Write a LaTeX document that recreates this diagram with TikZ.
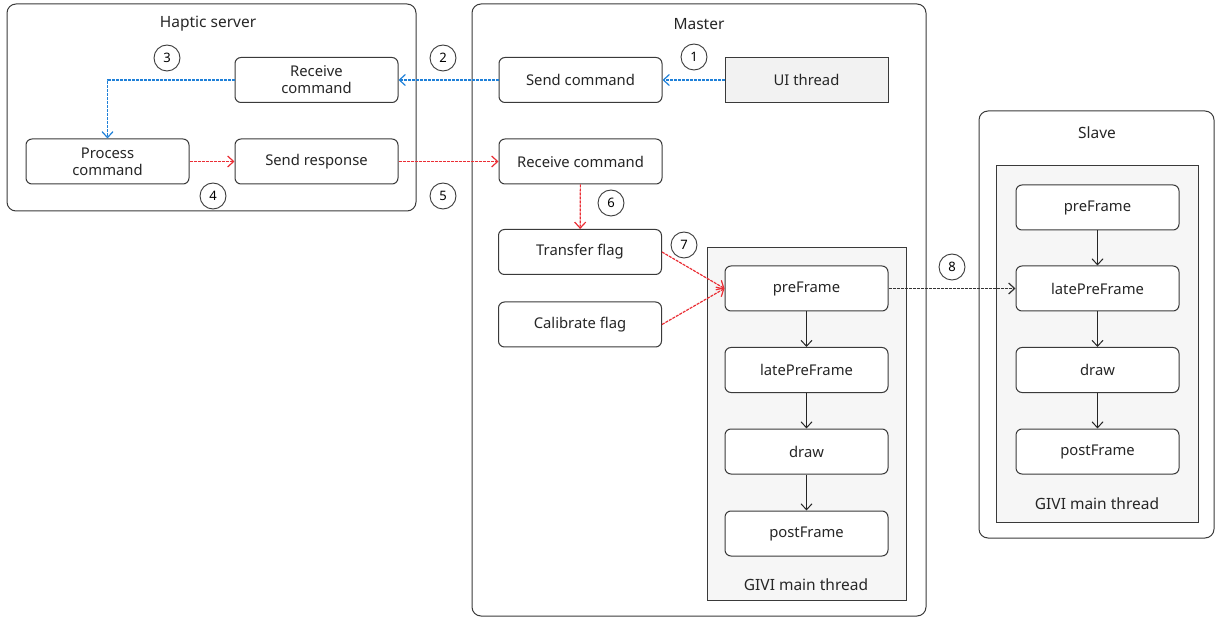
\documentclass[tikz,border=0pt]{standalone}
\usepackage{fontspec}
\setmainfont{Noto Sans}
\usetikzlibrary{arrows.meta}
\definecolor{edge}{HTML}{3A3A3A}
\definecolor{bluearrow}{HTML}{1F80D8}
\definecolor{redarrow}{HTML}{EA2E35}
\definecolor{panel}{HTML}{F6F6F6}
\definecolor{uifill}{HTML}{F2F2F2}
\tikzset{
  tip/.style={-{Straight Barb[length=6pt,width=11pt]}},
  group/.style={draw=edge, line width=1pt, rounded corners=9pt},
  thread/.style={draw=edge, line width=1pt, fill=panel},
  stepbox/.style={draw=edge, line width=1pt, rounded corners=6pt, fill=white,
    minimum width=163pt, minimum height=45pt, inner sep=0pt, align=center,
    font=\fontsize{14.8}{17}\selectfont, text=black!85},
  title/.style={font=\fontsize{15.5}{17}\selectfont, text=black!85},
  num/.style={draw=edge, line width=0.9pt, circle, minimum size=26pt, inner sep=0pt,
    font=\fontsize{13}{15}\selectfont},
  dashlink/.style={tip, line width=1.2pt, dash pattern=on 3pt off 1pt},
  bluelink/.style={dashlink, draw=bluearrow},
  redlink/.style={dashlink, draw=redarrow},
  blacklink/.style={dashlink, draw=black!80},
  flow/.style={tip, draw=black!85, line width=1pt},
}
\begin{document}
\begin{tikzpicture}[x=1pt, y=-1pt]
\useasboundingbox (0,0) rectangle (1216,620);

% host groups
\draw[group] (7,4) rectangle (416,211);
\node[title] (hsTitle) at (208,24) {Haptic server};
\draw[group] (472,4) rectangle (926,616);
\node[title] (msTitle) at (699,24) {Master};
\draw[group] (979,111) rectangle (1214,538);
\node[title] (slTitle) at (1097,133) {Slave};

% main-thread panels
\draw[thread] (707,248) rectangle (906,600);
\node[title] (mgTitle) at (806,585) {GIVI main thread};
\draw[thread] (996,166) rectangle (1198,522);
\node[title] (sgTitle) at (1097,504) {GIVI main thread};

% haptic server steps
\node[stepbox] (hRecv) at (316.5,80) {Receive\\command};
\node[stepbox] (hProc) at (107.5,161.5) {Process\\command};
\node[stepbox] (hSend) at (316.5,161.5) {Send response};

% master steps
\node[stepbox] (mSend) at (580.5,80) {Send command};
\node[stepbox, rounded corners=0pt, fill=uifill] (mUI) at (806.5,80) {UI thread};
\node[stepbox] (mRecv) at (580.5,161.5) {Receive command};
\node[stepbox] (mXfer) at (580,252) {Transfer flag};
\node[stepbox] (mCal) at (580,324.5) {Calibrate flag};
\node[stepbox] (mPre) at (806.5,288.5) {preFrame};
\node[stepbox] (mLate) at (806.5,370) {latePreFrame};
\node[stepbox] (mDraw) at (806.5,451.5) {draw};
\node[stepbox] (mPost) at (806.5,533.5) {postFrame};

% slave steps
\node[stepbox] (sPre) at (1097.5,207.5) {preFrame};
\node[stepbox] (sLate) at (1097.5,288.5) {latePreFrame};
\node[stepbox] (sDraw) at (1097.5,370) {draw};
\node[stepbox] (sPost) at (1097.5,451.5) {postFrame};

% step numbers
\node[num] (n1) at (694,57) {1};
\node[num] (n2) at (443,58) {2};
\node[num] (n3) at (167,58) {3};
\node[num] (n4) at (213,196) {4};
\node[num] (n5) at (443,196) {5};
\node[num] (n6) at (611,203) {6};
\node[num] (n7) at (684,245) {7};
\node[num] (n8) at (952,267) {8};

% command path
\draw[bluelink] (mUI) -- (mSend);
\draw[bluelink] (mSend) -- (hRecv);
\draw[bluelink] (hRecv.west) -| (hProc.north);

% response path
\draw[redlink] (hProc) -- (hSend);
\draw[redlink] (hSend) -- (mRecv);
\draw[redlink] (mRecv) -- (mXfer);
\draw[redlink] (mXfer.east) -- (mPre.west);
\draw[redlink] (mCal.east) -- (mPre.west);

% master to slave sync
\draw[blacklink] (mPre) -- (sLate);

% frame loops
\draw[flow] (mPre) -- (mLate);
\draw[flow] (mLate) -- (mDraw);
\draw[flow] (mDraw) -- (mPost);
\draw[flow] (sPre) -- (sLate);
\draw[flow] (sLate) -- (sDraw);
\draw[flow] (sDraw) -- (sPost);
\end{tikzpicture}
\end{document}
